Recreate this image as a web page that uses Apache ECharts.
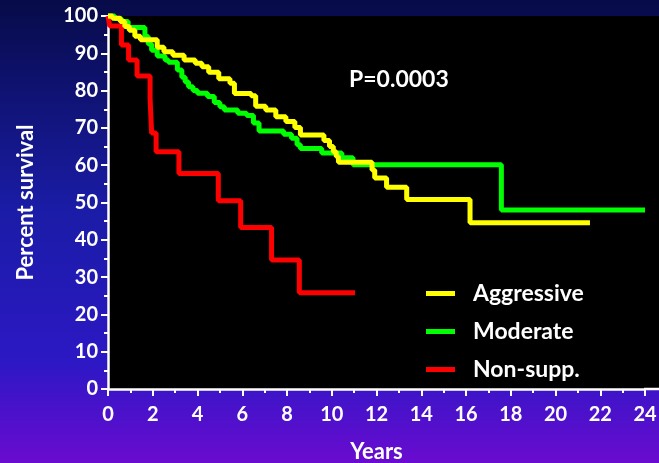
<!DOCTYPE html>
<html>
<head>
<meta charset="utf-8">
<script src="https://cdn.jsdelivr.net/npm/echarts@6/dist/echarts.min.js"></script>
<style>
html,body{margin:0;padding:0;}
#c{width:659px;height:463px;}
</style>
</head>
<body>
<div id="c"></div>
<script>
// Kaplan-Meier survival curves: [years, percent survival]
var aggressive = [[0,100],[0.2,99.4],[0.55,98.5],[0.75,97.2],[0.95,96.2],[1.2,94.6],[1.45,93.6],[2.2,91.6],[2.5,90.4],[2.9,89.5],[3.4,88.2],[3.9,87.3],[4.2,86.4],[4.5,84.9],[4.95,83.2],[5.45,82.0],[5.65,79.2],[6.4,78.6],[6.6,75.8],[7.05,74.8],[7.5,73.0],[7.95,71.7],[8.35,70.1],[8.6,68.1],[9.65,66.6],[9.9,65.0],[10.07,63.6],[10.2,62.3],[10.3,60.8],[11.8,58.7],[11.92,56.6],[12.45,54.1],[13.35,50.8],[16.18,44.6],[21.54,44.6]];
var moderate = [[0,100],[0.3,99.3],[0.6,98.5],[0.9,96.9],[1.65,94.5],[1.8,92.5],[1.95,90.8],[2.2,89.3],[2.55,88.2],[2.7,87.6],[3.1,85.5],[3.3,83.6],[3.45,82.3],[3.6,81.0],[3.8,80.0],[4.0,79.3],[4.45,78.4],[4.75,76.8],[5.0,75.7],[5.2,74.8],[5.8,73.9],[6.2,73.3],[6.5,71.3],[6.75,69.2],[7.85,68.3],[8.2,67.2],[8.45,65.5],[8.6,64.5],[9.55,63.3],[10.45,62.0],[10.95,60.1],[17.58,48.0],[24.0,48.0]];
var nonSupp = [[0,100],[0.08,97.3],[0.6,92.2],[0.92,88.2],[1.3,83.9],[1.88,78.0],[1.95,68.6],[2.15,63.6],[3.17,57.8],[4.93,50.5],[5.93,43.3],[7.31,34.6],[8.55,25.8],[11.04,25.8]];
var seriesNames = ['Aggressive','Moderate','Non-supp.'];
var pText = 'P=0.0003';

var FONT = 'Lato';
var chart = echarts.init(document.getElementById('c'), null, {renderer:'canvas'});
function mk(name, data, color, z){
  return {name:name, type:'line', step:'end', data:data, symbol:'none', clip:false, z:z,
    color: color, lineStyle:{color:color, width:5}, itemStyle:{color:color}, emphasis:{disabled:true}};
}
chart.setOption({
  animation:false,
  backgroundColor:{type:'linear',x:0,y:0,x2:0,y2:1,colorStops:[
    {offset:0,color:'#070b48'},{offset:0.45,color:'#1a1ca6'},{offset:0.78,color:'#2c18c4'},{offset:1,color:'#6a0bd0'}]},
  grid:{left:108,right:14,top:16,bottom:74,show:true,backgroundColor:'#000',borderWidth:0,
    containLabel:false,outerBoundsMode:'none'},
  xAxis:{type:'value',min:0,max:24,interval:2,
    name:'Years',nameLocation:'middle',nameGap:52,
    nameTextStyle:{color:'#fff',fontFamily:FONT,fontWeight:'bold',fontSize:22},
    axisLine:{show:true,lineStyle:{color:'#fff',width:2.5}},
    axisTick:{show:true,length:7,lineStyle:{color:'#fff',width:2}},
    minorTick:{show:true,splitNumber:2,length:4,lineStyle:{color:'#fff',width:2}},
    splitLine:{show:false},
    axisLabel:{color:'#fff',fontFamily:FONT,fontWeight:'bold',fontSize:20,margin:16}},
  yAxis:{type:'value',min:0,max:100,interval:10,
    name:'Percent survival',nameLocation:'middle',nameGap:71,nameRotate:90,
    nameTextStyle:{color:'#fff',fontFamily:FONT,fontWeight:'bold',fontSize:22},
    axisLine:{show:true,lineStyle:{color:'#fff',width:2.5}},
    axisTick:{show:true,length:7,lineStyle:{color:'#fff',width:2}},
    minorTick:{show:true,splitNumber:2,length:4,lineStyle:{color:'#fff',width:2}},
    splitLine:{show:false},
    axisLabel:{color:'#fff',fontFamily:FONT,fontWeight:'bold',fontSize:20,margin:10}},
  legend:{orient:'vertical',left:426,top:282,padding:0,icon:'rect',itemWidth:29,itemHeight:5,itemGap:15,
    data:seriesNames,selectedMode:false,
    textStyle:{color:'#fff',fontFamily:FONT,fontWeight:'bold',fontSize:23,padding:[0,0,0,13],lineHeight:22}},
  graphic:[
    {type:'rect',shape:{x:645,y:16,width:14,height:373},style:{fill:'#000'},z:0,silent:true},
    {type:'line',shape:{x1:644,y1:389,x2:659,y2:389},style:{stroke:'#fff',lineWidth:2.5},z:10,silent:true},
    {type:'text',left:349,top:68,style:{text:pText,fill:'#fff',font:'bold 23px Lato'},z:10}
  ],
  series:[
    mk(seriesNames[2], nonSupp, '#ff0000', 2),
    mk(seriesNames[1], moderate, '#00ff00', 3),
    mk(seriesNames[0], aggressive, '#ffff00', 4)
  ]
});
</script>
</body>
</html>
